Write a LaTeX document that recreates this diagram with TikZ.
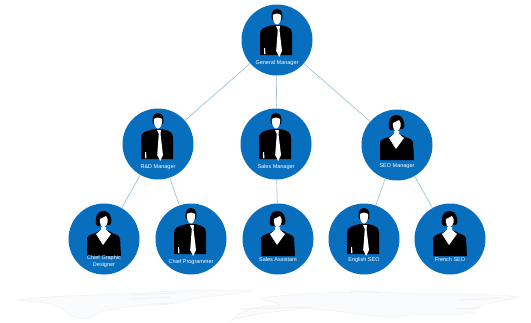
\documentclass[tikz,border=0pt]{standalone}
\usepackage{fontspec}
\setmainfont{Liberation Sans}
\definecolor{disc}{RGB}{8,110,190}
\definecolor{linkc}{RGB}{150,185,215}
\definecolor{mapc}{RGB}{250,251,252}
\definecolor{mapl}{RGB}{240,241,243}
\tikzset{
  person/.style={circle,fill=disc,draw=none,minimum size=71pt,inner sep=0pt},
  caption/.style={text=white,font=\fontsize{5.5}{7}\selectfont,align=center,inner sep=0pt},
  link/.style={draw=linkc,line width=0.6pt},
  mapland/.style={fill=mapc,draw=mapl,line width=0.5pt},
  mapstreak/.style={draw=mapl,line width=1pt,line cap=round},
  manpic/.pic={
    \fill[black] (-17,-6) .. controls (-17,-12) and (-12,-13) .. (-4,-15) -- (4,-15)
      .. controls (12,-13) and (15,-12) .. (15,-6) -- (15,15) -- (-17,15) -- cycle;
    \fill[black] (0,-31) .. controls (-6,-31) and (-6,-24) .. (-5,-20) -- (5,-20) .. controls (6,-24) and (6,-31) .. (0,-31) -- cycle;
    \fill[white] (-4.2,-25) .. controls (-1,-27) and (2,-27) .. (4.2,-25) .. controls (4.5,-19) and (2,-15.5) .. (0,-15.5) .. controls (-2,-15.5) and (-4.5,-19) .. (-4.2,-25) -- cycle;
    \fill[white] (-1,-14) -- (3,-14) -- (2.5,-10) -- (5,11) -- (2.2,17) -- (-.8,11) -- (.8,-10) -- cycle;
    \fill[white] (-13,8) -- (-12,8) -- (-11.5,14) -- (-13,14) -- cycle;
  },
  womanpic/.pic={
    \fill[black] (-17,-3) .. controls (-16,-7) and (-8,-7) .. (-5,-10) -- (5,-10)
      .. controls (8,-7) and (15,-7) .. (16,-3) -- (17,15) -- (-17,15) -- cycle;
    \fill[black] (-1,-30) .. controls (-7,-30) and (-9,-24) .. (-8,-17) .. controls (-7,-14) and (-4,-14) .. (-3,-16) -- (4,-16)
      .. controls (7,-15) and (8,-19) .. (7,-23) .. controls (6,-28) and (3,-30) .. (-1,-30) -- cycle;
    \fill[white] (-4,-22) .. controls (-2,-23) and (0,-24) .. (2,-25) .. controls (5,-22) and (4,-15) .. (-.5,-13.5) .. controls (-3,-14) and (-4.5,-18) .. (-4,-22) -- cycle;
    \fill[white] (-3,-14) -- (2,-14) -- (2,-11) -- (7,-7) -- (-1,4) -- (-8,-7) -- (-3,-11) -- cycle;
  }
}
\begin{document}
\begin{tikzpicture}[x=1pt,y=-1pt]
\useasboundingbox (0,0) rectangle (531,322);
% faint world map
\path[mapland] (18,300) .. controls (60,294) and (120,296) .. (170,291) .. controls (200,290) and (225,291) .. (252,291) .. controls (225,296) and (205,296) .. (195,299) .. controls (180,300) and (175,306) .. (150,305) .. controls (120,307) and (100,310) .. (90,318) .. controls (80,319) and (70,318) .. (65,311) .. controls (60,304) and (40,302) .. (18,300) -- cycle;
\path[mapland] (260,298) .. controls (300,293) and (360,290) .. (420,294) .. controls (460,294) and (490,294) .. (520,297) .. controls (500,302) and (470,305) .. (475,312) .. controls (450,318) and (420,312) .. (395,317) .. controls (360,316) and (330,308) .. (300,309) .. controls (270,312) and (240,316) .. (230,321) .. controls (240,312) and (250,306) .. (280,305) .. controls (275,302) and (265,301) .. (260,298) -- cycle;
\draw[mapstreak] (135,295) -- (175,293);
\draw[mapstreak] (130,299) -- (170,297);
\draw[mapstreak] (150,304) -- (178,303);
\draw[mapstreak] (240,309) -- (310,307);
\draw[mapstreak] (350,291) -- (380,292);
\draw[mapstreak] (460,300) -- (500,298);
\draw[mapstreak] (455,309) -- (480,308);
% discs
\node[person] (gm) at (277,40) {};
\node[person] (rd) at (158,144) {};
\node[person] (sm) at (276,144) {};
\node[person] (seo) at (397,145) {};
\node[person] (cgd) at (104,239) {};
\node[person] (cp) at (191,239) {};
\node[person] (sa) at (278,239) {};
\node[person] (es) at (364,239) {};
\node[person] (fs) at (450,239) {};
% connectors
\draw[link] (gm) -- (rd);
\draw[link] (gm) -- (sm);
\draw[link] (gm) -- (seo);
\draw[link] (rd) -- (cgd);
\draw[link] (rd) -- (cp);
\draw[link] (sm) -- (sa);
\draw[link] (seo) -- (es);
\draw[link] (seo) -- (fs);
% figures
\pic at (gm) {manpic};
\pic at (rd) {manpic};
\pic at (sm) {manpic};
\pic at (seo) {womanpic};
\pic at ([yshift=-2pt]cgd) {womanpic};
\pic at (cp) {manpic};
\pic at ([yshift=-2pt]sa) {womanpic};
\pic at (es) {manpic};
\pic at ([yshift=-2pt]fs) {womanpic};
% captions
\node[caption] (gmt) at ([yshift=-23pt]gm) {General Manager};
\node[caption] (rdt) at ([yshift=-23pt]rd) {R\&D Manager};
\node[caption] (smt) at ([yshift=-23pt]sm) {Sales Manager};
\node[caption] (seot) at ([yshift=-21pt]seo) {SEO Manager};
\node[caption] (cgdt) at ([yshift=-23pt]cgd) {Chief Graphic\\Designer};
\node[caption] (cpt) at ([yshift=-23pt]cp) {Chief Programmer};
\node[caption] (sat) at ([yshift=-21pt]sa) {Sales Assistant};
\node[caption] (est) at ([yshift=-21pt]es) {English SEO};
\node[caption] (fst) at ([yshift=-21pt]fs) {French SEO};
\end{tikzpicture}
\end{document}
